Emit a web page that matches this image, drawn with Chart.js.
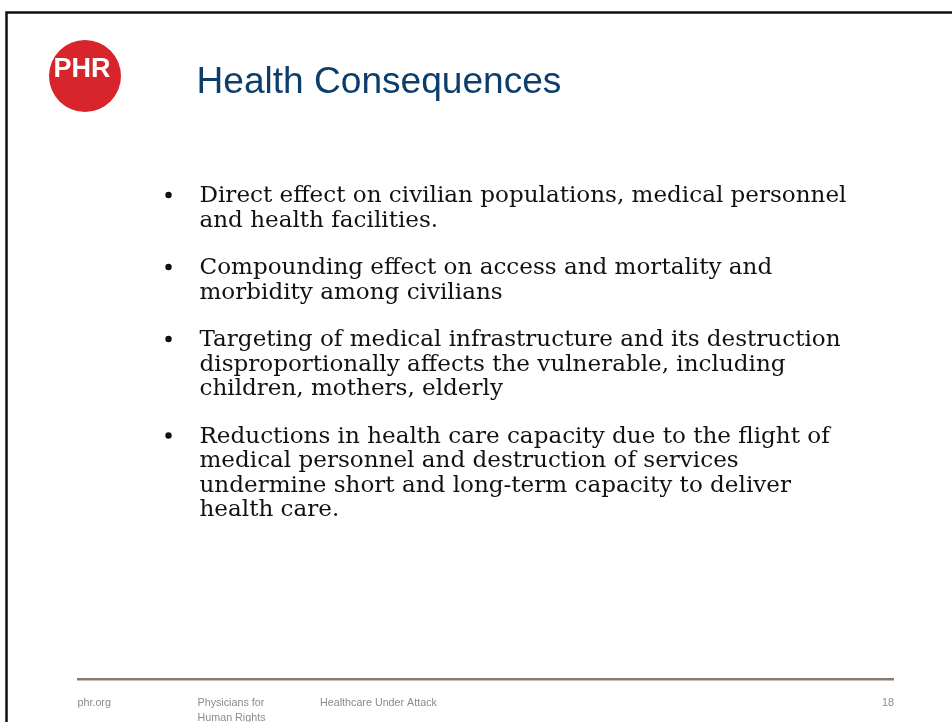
<!DOCTYPE html>
<html>
<head>
<meta charset="utf-8">
<title>Health Consequences</title>
<script src="https://cdn.jsdelivr.net/npm/chart.js@4/dist/chart.umd.min.js"></script>
<style>
  html, body { margin: 0; padding: 0; background: #fff; }
  #wrap { width: 952px; height: 722px; position: relative; }
</style>
</head>
<body>
<div id="wrap"><canvas id="Slide"></canvas></div>
<script>
const slideTitle = 'Health Consequences';
const logoText = 'PHR';
const bullets = [
    ['Direct effect on civilian populations, medical personnel',
     'and health facilities.'],
    ['Compounding effect on access and mortality and',
     'morbidity among civilians'],
    ['Targeting of medical infrastructure and its destruction',
     'disproportionally affects the vulnerable, including',
     'children, mothers, elderly'],
    ['Reductions in health care capacity due to the flight of',
     'medical personnel and destruction of services',
     'undermine short and long-term capacity to deliver',
     'health care.']
];
const footerLabels = ['phr.org', ['Physicians for', 'Human Rights'], 'Healthcare Under Attack'];
const pageNumber = '18';

// fits a font size so that text spans the given width
function fitSize(ctx, text, family, weight, width) {
    ctx.font = weight + ' 100px ' + family;
    return 100 * width / ctx.measureText(text).width;
}

const slidePlugin = {
    id: 'slide',
    beforeDraw(chart) {
        const ctx = chart.ctx;
        ctx.save();
        ctx.fillStyle = '#fff';
        ctx.fillRect(0, 0, chart.width, chart.height);

        // frame
        ctx.strokeStyle = '#111';
        ctx.lineWidth = 2.5;
        ctx.beginPath();
        ctx.moveTo(952, 12.5);
        ctx.lineTo(6.5, 12.5);
        ctx.lineTo(6.5, 722);
        ctx.stroke();

        // logo
        ctx.fillStyle = '#d7252b';
        ctx.beginPath();
        ctx.arc(85, 76, 36, 0, Math.PI * 2);
        ctx.fill();
        ctx.fillStyle = '#fff';
        ctx.font = 'bold 27px "Liberation Sans", Arial, sans-serif';
        ctx.textAlign = 'center';
        ctx.textBaseline = 'alphabetic';
        ctx.fillText(logoText, 82, 76.5);

        // title
        const ts = fitSize(ctx, slideTitle, '"Liberation Sans", Arial, sans-serif', 'normal', 365);
        ctx.font = ts.toFixed(2) + 'px "Liberation Sans", Arial, sans-serif';
        ctx.fillStyle = '#0d3d6b';
        ctx.textAlign = 'left';
        ctx.fillText(slideTitle, 196.5, 93);

        // bullets
        const fam = '"DejaVu Serif", serif';
        ctx.font = '22.5px ' + fam;
        const sx = 647 / ctx.measureText(bullets[0][0]).width;
        let y = 202;
        bullets.forEach(lines => {
            ctx.fillStyle = '#111';
            ctx.beginPath();
            ctx.arc(168.5, y - 7, 3.2, 0, Math.PI * 2);
            ctx.fill();
            lines.forEach((line, i) => {
                ctx.save();
                ctx.translate(199.5, y);
                ctx.scale(sx, 1);
                ctx.fillText(line, 0, 0);
                ctx.restore();
                y += (i < lines.length - 1) ? 24.5 : 47.5;
            });
        });

        // footer
        ctx.strokeStyle = '#857b72';
        ctx.lineWidth = 2.5;
        ctx.beginPath();
        ctx.moveTo(77, 679.3);
        ctx.lineTo(894, 679.3);
        ctx.stroke();

        ctx.fillStyle = '#8a8a8a';
        const fs = fitSize(ctx, footerLabels[2], '"Liberation Sans", Arial, sans-serif', 'normal', 117);
        ctx.font = fs.toFixed(2) + 'px "Liberation Sans", Arial, sans-serif';
        const fx = [77.5, 197.5, 320];
        footerLabels.forEach((lab, i) => {
            const parts = Array.isArray(lab) ? lab : [lab];
            parts.forEach((p, j) => ctx.fillText(p, fx[i], 706 + j * 14.5));
        });
        ctx.textAlign = 'right';
        ctx.fillText(pageNumber, 894, 706);
        ctx.restore();
    }
};

new Chart(document.getElementById('Slide'), {
    type: 'bar',
    data: { labels: [], datasets: [] },
    options: {
        responsive: true,
        maintainAspectRatio: false,
        animation: false,
        events: [],
        plugins: {
            legend: { display: false },
            title: { display: false },
            tooltip: { enabled: false }
        },
        scales: {
            x: { display: false },
            y: { display: false }
        }
    },
    plugins: [slidePlugin]
});
</script>
</body>
</html>
